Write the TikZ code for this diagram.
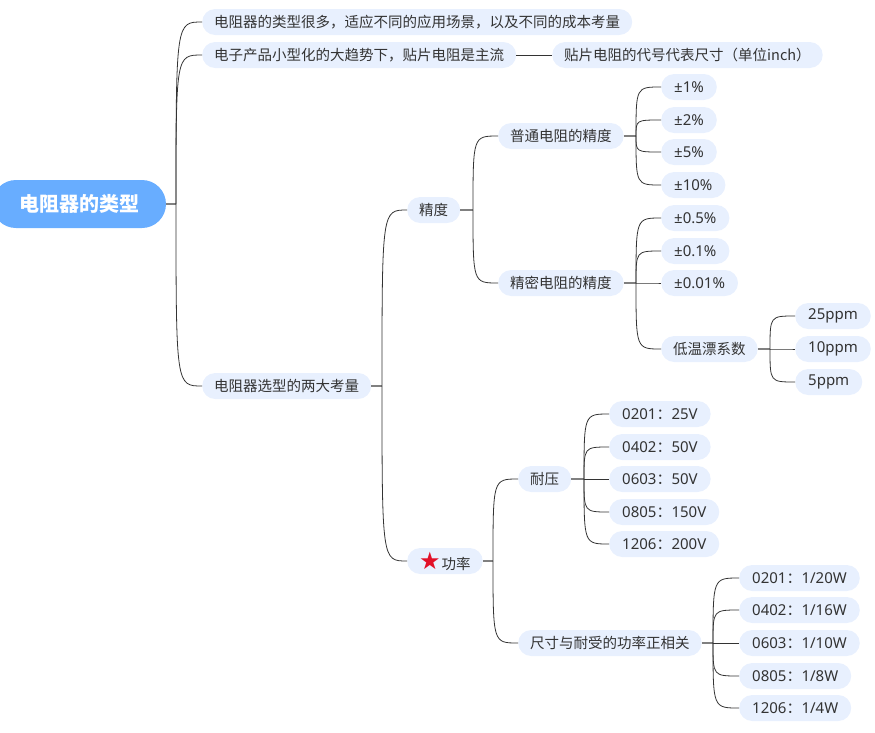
\documentclass[tikz,border=0pt]{standalone}
\usepackage{fontspec}
\setmainfont{Noto Sans CJK SC}
\newfontfamily\cjk{Noto Sans CJK SC}
\newfontfamily\lat{Noto Sans}
\newfontfamily\symfont{DejaVu Sans}
\usetikzlibrary{positioning,calc}
\definecolor{pillblue}{RGB}{232,240,254}
\definecolor{rootblue}{RGB}{104,173,255}
\definecolor{inkgray}{RGB}{51,51,51}
\definecolor{starred}{RGB}{226,16,40}

\begin{document}
\begin{tikzpicture}[x=1pt,y=-1pt]
  \tikzstyle{every node}=[font=\fontsize{14.5}{16}\selectfont, text=inkgray]
  \tikzstyle{pill}=[fill=pillblue, rounded corners=13pt, minimum height=26pt, inner xsep=12pt, inner ysep=0pt, anchor=west]
  \tikzstyle{numpill}=[pill, inner xsep=13pt, font=\fontsize{15}{16}\selectfont\lat]
  \tikzstyle{rootpill}=[fill=rootblue, rounded corners=24pt, minimum height=48pt, minimum width=174pt, text=white, font=\fontsize{20}{22}\selectfont\bfseries]
  \tikzstyle{link}=[draw=inkgray, line width=0.8pt]
  \tikzstyle{stub}=[draw=gray, line width=1.2pt]

  \useasboundingbox (0,0) rectangle (875,732);

  % root
  \node[rootpill] (root) at (79,204) {电阻器的类型};
  \coordinate (rootJ) at (176,204);

  % first level
  \node[pill] (kinds) at (202,22) {电阻器的类型很多，适应不同的应用场景，以及不同的成本考量};
  \node[pill] (smd) at (202,55) {电子产品小型化的大趋势下，贴片电阻是主流};
  \node[pill] (code) at (552,55) {贴片电阻的代号代表尺寸（单位inch）};
  \node[pill] (select) at (202,386) {电阻器选型的两大考量};
  \coordinate (selectJ) at (382,386);

  % accuracy
  \node[pill] (acc) at (407,210) {精度};
  \coordinate (accJ) at (473,210);
  \node[pill] (normal) at (498,136) {普通电阻的精度};
  \coordinate (normalJ) at (636,136);
  \node[numpill] (n1) at (661,87) {±1\%};
  \node[numpill] (n2) at (661,120) {±2\%};
  \node[numpill] (n5) at (661,152) {±5\%};
  \node[numpill] (n10) at (661,185) {±10\%};
  \node[pill] (precise) at (498,283) {精密电阻的精度};
  \coordinate (preciseJ) at (636,283);
  \node[numpill] (p05) at (661,218) {±0.5\%};
  \node[numpill] (p01) at (661,251) {±0.1\%};
  \node[numpill] (p001) at (661,283) {±0.01\%};
  \node[pill] (tcr) at (661,349) {低温漂系数};
  \coordinate (tcrJ) at (770,349);
  \node[numpill] (t25) at (795,316) {25ppm};
  \node[numpill] (t10) at (795,349) {10ppm};
  \node[numpill] (t5) at (795,382) {5ppm};

  % power
  \node[pill] (power) at (407,561) {{\symfont\fontsize{24}{24}\selectfont\textcolor{starred}{★}}\kern1pt功率};
  \coordinate (powerJ) at (493,561);
  \node[pill] (volt) at (518,479) {耐压};
  \coordinate (voltJ) at (584,479);
  \node[numpill] (v1) at (609,414) {0201{\cjk ：}25V};
  \node[numpill] (v2) at (609,447) {0402{\cjk ：}50V};
  \node[numpill] (v3) at (609,479) {0603{\cjk ：}50V};
  \node[numpill] (v4) at (609,512) {0805{\cjk ：}150V};
  \node[numpill] (v5) at (609,544) {1206{\cjk ：}200V};
  \node[pill] (watt) at (518,643) {尺寸与耐受的功率正相关};
  \coordinate (wattJ) at (713,643);
  \node[numpill] (w1) at (739,578) {0201{\cjk ：}1/20W};
  \node[numpill] (w2) at (739,610) {0402{\cjk ：}1/16W};
  \node[numpill] (w3) at (739,643) {0603{\cjk ：}1/10W};
  \node[numpill] (w4) at (739,676) {0805{\cjk ：}1/8W};
  \node[numpill] (w5) at (739,708) {1206{\cjk ：}1/4W};

  % connectors
  \draw[stub] (root) -- (rootJ);
  \foreach \c in {kinds,smd,select}
    \draw[link] (rootJ) .. controls (rootJ |- \c.west) .. (\c.west);
  \draw[link] (smd) -- (code);
  \draw[stub] (select) -- (selectJ);
  \foreach \c in {acc,power}
    \draw[link] (selectJ) .. controls (selectJ |- \c.west) .. (\c.west);
  \draw[stub] (acc) -- (accJ);
  \foreach \c in {normal,precise}
    \draw[link] (accJ) .. controls (accJ |- \c.west) .. (\c.west);
  \draw[stub] (normal) -- (normalJ);
  \foreach \c in {n1,n2,n5,n10}
    \draw[link] (normalJ) .. controls (normalJ |- \c.west) .. (\c.west);
  \draw[stub] (precise) -- (preciseJ);
  \foreach \c in {p05,p01,p001,tcr}
    \draw[link] (preciseJ) .. controls (preciseJ |- \c.west) .. (\c.west);
  \draw[stub] (tcr) -- (tcrJ);
  \foreach \c in {t25,t10,t5}
    \draw[link] (tcrJ) .. controls (tcrJ |- \c.west) .. (\c.west);
  \draw[stub] (power) -- (powerJ);
  \foreach \c in {volt,watt}
    \draw[link] (powerJ) .. controls (powerJ |- \c.west) .. (\c.west);
  \draw[stub] (volt) -- (voltJ);
  \foreach \c in {v1,v2,v3,v4,v5}
    \draw[link] (voltJ) .. controls (voltJ |- \c.west) .. (\c.west);
  \draw[stub] (watt) -- (wattJ);
  \foreach \c in {w1,w2,w3,w4,w5}
    \draw[link] (wattJ) .. controls (wattJ |- \c.west) .. (\c.west);
\end{tikzpicture}
\end{document}
